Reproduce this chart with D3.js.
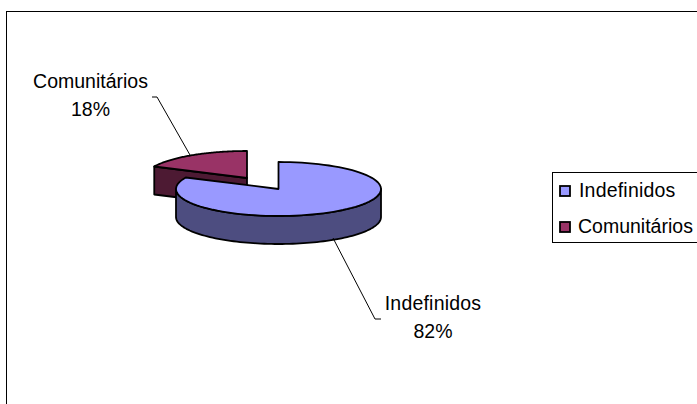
<!DOCTYPE html>
<html>
<head>
<meta charset="utf-8">
<script src="https://cdnjs.cloudflare.com/ajax/libs/d3/7.8.5/d3.min.js"></script>
<style>
  html, body { margin: 0; padding: 0; background: #fff; }
  svg { display: block; }
  text { font-family: "Liberation Sans", Arial, sans-serif; font-size: 19.5px; fill: #000; }
</style>
</head>
<body>
<div id="chart"></div>
<script>
// data
const categories = ['Indefinidos', 'Comunitários'];
const shares = [82, 18];
const topColors = ['#9999ff', '#993366'];
const wallColors = ['#4d4d80', '#4d1a33'];

const width = 697, height = 404;
const rx = 102.5, ry = 27, depth = 28;

const svg = d3.select('#chart').append('svg')
  .attr('width', width)
  .attr('height', height);

// chart frame
svg.append('rect')
  .attr('x', 6.5).attr('y', 11.5)
  .attr('width', 700).attr('height', 400)
  .attr('fill', '#fff')
  .attr('stroke', '#000');

const slices = d3.pie().sort(null)(shares);

// the small slice is pulled out from the pie
const centers = [{ x: 278.5, y: 189 }, { x: 247, y: 178 }];

const px = (c, a) => c.x + rx * Math.sin(a);
const py = (c, a) => c.y - ry * Math.cos(a);

function topPath(d, c) {
  const p = d3.path();
  p.moveTo(c.x, c.y);
  p.lineTo(px(c, d.startAngle), py(c, d.startAngle));
  // d3.path ellipse arc is not available, so walk the rim
  const n = 90;
  for (let i = 1; i <= n; i++) {
    const a = d.startAngle + (d.endAngle - d.startAngle) * i / n;
    p.lineTo(px(c, a), py(c, a));
  }
  p.closePath();
  return p.toString();
}

// outer wall, only the part facing the viewer
function rimWall(d, c) {
  const a0 = Math.max(d.startAngle, Math.PI / 2);
  const a1 = Math.min(d.endAngle, Math.PI * 1.5);
  if (a1 <= a0) return null;
  const n = 90;
  const pts = d3.range(n + 1).map(i => a0 + (a1 - a0) * i / n);
  const line = d3.line();
  return line(pts.map(a => [px(c, a), py(c, a)])
    .concat(pts.slice().reverse().map(a => [px(c, a), py(c, a) + depth]))) + 'Z';
}

// cut face of the small slice, seen from the front
function cutWall(d, c) {
  const a = d.startAngle;
  const line = d3.line();
  return line([
    [px(c, a), py(c, a)],
    [c.x, c.y],
    [c.x, c.y + depth],
    [px(c, a), py(c, a) + depth]
  ]) + 'Z';
}

const pieG = svg.append('g')
  .attr('stroke', '#000')
  .attr('stroke-width', 1.8)
  .attr('stroke-linejoin', 'round');

// red first, blue sits in front of it
const small = slices[1], big = slices[0];
pieG.append('path').attr('d', cutWall(small, centers[1])).attr('fill', wallColors[1]);
pieG.append('path').attr('d', topPath(small, centers[1])).attr('fill', topColors[1]);
pieG.append('path').attr('d', rimWall(big, centers[0])).attr('fill', wallColors[0]);
pieG.append('path').attr('d', topPath(big, centers[0])).attr('fill', topColors[0]);

// leader lines
const leaderLine = d3.line();
const leaders = [
  [[333, 238], [375, 319], [381, 319]],
  [[190, 155], [157, 97], [152, 97]]
];
svg.selectAll('.leader').data(leaders).join('path')
  .attr('class', 'leader')
  .attr('d', d => leaderLine(d))
  .attr('fill', 'none')
  .attr('stroke', '#000');

// data labels
const labelPos = [{ x: 433, y: 310 }, { x: 90.5, y: 88 }];
const labels = svg.selectAll('.label').data(categories).join('text')
  .attr('class', 'label')
  .attr('text-anchor', 'middle');
labels.append('tspan')
  .attr('x', (d, i) => labelPos[i].x)
  .attr('y', (d, i) => labelPos[i].y)
  .attr('letter-spacing', (d, i) => i === 0 ? 0.2 : 0)
  .text(d => d);
labels.append('tspan')
  .attr('x', (d, i) => labelPos[i].x)
  .attr('y', (d, i) => labelPos[i].y + 28)
  .text((d, i) => shares[i] + '%');

// legend
const legend = svg.append('g');
legend.append('rect')
  .attr('x', 552.5).attr('y', 172.5)
  .attr('width', 160).attr('height', 70)
  .attr('fill', '#fff')
  .attr('stroke', '#000');
const legendY = d3.scalePoint().domain(categories).range([191, 227]);
legend.selectAll('.swatch').data(categories).join('rect')
  .attr('class', 'swatch')
  .attr('x', 560)
  .attr('y', d => legendY(d) - 5)
  .attr('width', 10).attr('height', 10)
  .attr('fill', (d, i) => topColors[i])
  .attr('stroke', '#000')
  .attr('stroke-width', 1.8);
legend.selectAll('.entry').data(categories).join('text')
  .attr('class', 'entry')
  .attr('x', (d, i) => i === 0 ? 579 : 578)
  .attr('y', d => legendY(d) + 6)
  .attr('letter-spacing', (d, i) => i === 0 ? 0.2 : 0)
  .text(d => d);
</script>
</body>
</html>
